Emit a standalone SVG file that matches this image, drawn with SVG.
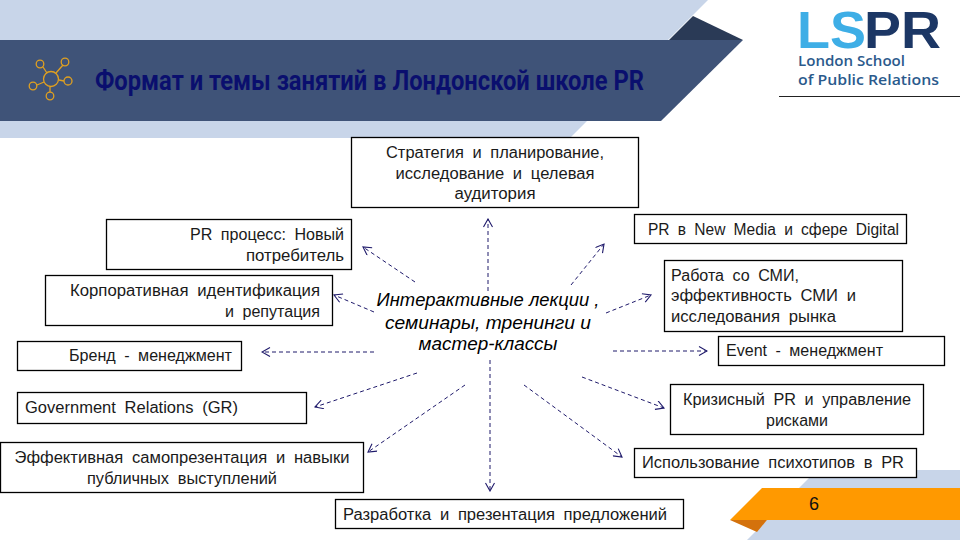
<svg xmlns="http://www.w3.org/2000/svg" width="960" height="540" viewBox="0 0 960 540">
<style>
.b{fill:#fff;stroke:#000;stroke-width:1.3}
.t{font-family:"Liberation Sans",Arial,sans-serif;font-size:16px;fill:#1a1a1a;word-spacing:4px}
.m{text-anchor:middle}
.e{text-anchor:end}
.c{font-family:"Liberation Sans",Arial,sans-serif;font-size:18px;font-style:italic;fill:#000;text-anchor:middle}
.a{fill:none;stroke:#1f1a6b;stroke-width:1;stroke-dasharray:4 3;marker-end:url(#h)}
.i{fill:none;stroke:#e0a020;stroke-width:1.3}
.l{font-family:"Liberation Sans",Arial,sans-serif;font-size:52px;font-weight:700}
.s{font-family:"Open Sans","Liberation Sans",sans-serif;font-size:14.500px;font-weight:600;fill:#2b5a8c}
</style>
<defs>
<marker id="h" viewBox="0 0 10 10" refX="9" refY="5" markerWidth="10" markerHeight="10" markerUnits="userSpaceOnUse" orient="auto"><path d="M1 0.5L9 5L1 9.500" fill="none" stroke="#1f1a6b" stroke-width="1.1"/></marker>
</defs>
<rect width="960" height="540" fill="#fff"/>
<polygon points="0,0 708,0 570,138 0,138" fill="#c8d5e9"/>
<polygon points="669,40 693,16 743,40" fill="#2a3a56"/>
<polygon points="0,40 743,40 661,121 0,121" fill="#3f5378"/>
<g id="title-icon">
<circle class="i" cx="51" cy="79" r="7.500"/><circle class="i" cx="40" cy="64" r="3.800"/><circle class="i" cx="65" cy="62" r="3.800"/><circle class="i" cx="68" cy="81" r="4"/><circle class="i" cx="33" cy="86" r="3.800"/><circle class="i" cx="50" cy="96" r="3.800"/>
<path class="i" d="M43 67L47 73M63 65L56 73M59 80L64 81M44 82L37 85M50 87V92"/>
</g>
<text id="title" x="95" y="90" font-family="Roboto,'Liberation Sans',sans-serif" font-size="27" font-weight="700" fill="#0a0f6e" textLength="549" lengthAdjust="spacingAndGlyphs">Формат и темы занятий в Лондонской школе PR</text>
<g id="logo">
<text class="l" x="797" y="48" fill="#3eaee6" textLength="69" lengthAdjust="spacingAndGlyphs">LS</text>
<text class="l" x="864" y="48" fill="#1c3765" textLength="77" lengthAdjust="spacingAndGlyphs">PR</text>
<text class="s" x="798" y="66" textLength="107" lengthAdjust="spacingAndGlyphs">London School</text>
<text class="s" x="798" y="85" textLength="141" lengthAdjust="spacingAndGlyphs">of Public Relations</text>
<path d="M779 96.500H960" stroke="#222" stroke-width="1"/>
</g>
<polygon points="817,470 960,470 960,540 747,540" fill="#c8d5e9"/>
<g id="page-number">
<polygon points="730,520 762,488 960,488 960,520" fill="#ff9900"/>
<polygon points="730,520 767,520 757,532" fill="#d4720c"/>
<text x="814" y="510" font-family="'Liberation Sans',sans-serif" font-size="18" fill="#111" text-anchor="middle">6</text>
</g>
<g id="connectors">
<path class="a" d="M488 291V219"/>
<path class="a" d="M415 282L363 247"/>
<path class="a" d="M374 312L334 295"/>
<path class="a" d="M374 352H262"/>
<path class="a" d="M417 373L315 407"/>
<path class="a" d="M465 385L368 452"/>
<path class="a" d="M490 360V491"/>
<path class="a" d="M524 385L622 457"/>
<path class="a" d="M582 377L664 408"/>
<path class="a" d="M613 351H707"/>
<path class="a" d="M606 313L651 295"/>
<path class="a" d="M571 285L604 244"/>
</g>
<g id="n1"><rect class="b" x="351.500" y="137.500" width="287" height="70"/><text class="t m" x="495" y="158" textLength="218" lengthAdjust="spacingAndGlyphs">Стратегия и планирование,</text><text class="t m" x="495" y="179" textLength="199" lengthAdjust="spacingAndGlyphs">исследование и целевая</text><text class="t m" x="495" y="199" textLength="81" lengthAdjust="spacingAndGlyphs">аудитория</text></g>
<g id="n2"><rect class="b" x="634.500" y="214.500" width="272" height="29"/><text class="t" x="648" y="235" textLength="251" lengthAdjust="spacingAndGlyphs">PR в New Media и сфере Digital</text></g>
<g id="n3"><rect class="b" x="664.500" y="260.500" width="238" height="71"/><text class="t" x="671" y="281" textLength="128" lengthAdjust="spacingAndGlyphs">Работа со СМИ,</text><text class="t" x="671" y="301" textLength="185" lengthAdjust="spacingAndGlyphs">эффективность СМИ и</text><text class="t" x="671" y="322" textLength="165" lengthAdjust="spacingAndGlyphs">исследования рынка</text></g>
<g id="n4"><rect class="b" x="718.500" y="336.500" width="226" height="29"/><text class="t" x="726" y="356" textLength="157" lengthAdjust="spacingAndGlyphs">Event - менеджмент</text></g>
<g id="n5"><rect class="b" x="670.500" y="384.500" width="253" height="50"/><text class="t m" x="797" y="405" textLength="228" lengthAdjust="spacingAndGlyphs">Кризисный PR и управление</text><text class="t m" x="797" y="426" textLength="62" lengthAdjust="spacingAndGlyphs">рисками</text></g>
<g id="n6"><rect class="b" x="634.500" y="448.500" width="282" height="29"/><text class="t" x="642" y="468" textLength="262" lengthAdjust="spacingAndGlyphs">Использование психотипов в PR</text></g>
<g id="n7"><rect class="b" x="335.500" y="499.500" width="348" height="29"/><text class="t" x="343" y="520" textLength="324" lengthAdjust="spacingAndGlyphs">Разработка и презентация предложений</text></g>
<g id="n8"><rect class="b" x="0.500" y="442.500" width="363" height="50"/><text class="t m" x="182" y="463" textLength="335" lengthAdjust="spacingAndGlyphs">Эффективная самопрезентация и навыки</text><text class="t m" x="182" y="484" textLength="190" lengthAdjust="spacingAndGlyphs">публичных выступлений</text></g>
<g id="n9"><rect class="b" x="17.500" y="392.500" width="289" height="31"/><text class="t" x="25" y="413" textLength="213" lengthAdjust="spacingAndGlyphs">Government Relations (GR)</text></g>
<g id="n10"><rect class="b" x="17.500" y="341.500" width="224" height="29"/><text class="t" x="69" y="361" textLength="163" lengthAdjust="spacingAndGlyphs">Бренд - менеджмент</text></g>
<g id="n11"><rect class="b" x="45.500" y="275.500" width="287" height="50"/><text class="t" x="70" y="296" textLength="250" lengthAdjust="spacingAndGlyphs">Корпоративная идентификация</text><text class="t" x="225" y="317" textLength="95" lengthAdjust="spacingAndGlyphs">и репутация</text></g>
<g id="n12"><rect class="b" x="106.500" y="219.500" width="245" height="50"/><text class="t" x="190" y="240" textLength="154" lengthAdjust="spacingAndGlyphs">PR процесс: Новый</text><text class="t" x="246" y="261" textLength="98" lengthAdjust="spacingAndGlyphs">потребитель</text></g>
<g id="center"><text class="c" x="488" y="306" textLength="223" lengthAdjust="spacingAndGlyphs">Интерактивные лекции ,</text><text class="c" x="488" y="329" textLength="206" lengthAdjust="spacingAndGlyphs">семинары, тренинги и</text><text class="c" x="488" y="350" textLength="139" lengthAdjust="spacingAndGlyphs">мастер-классы</text></g>
</svg>
